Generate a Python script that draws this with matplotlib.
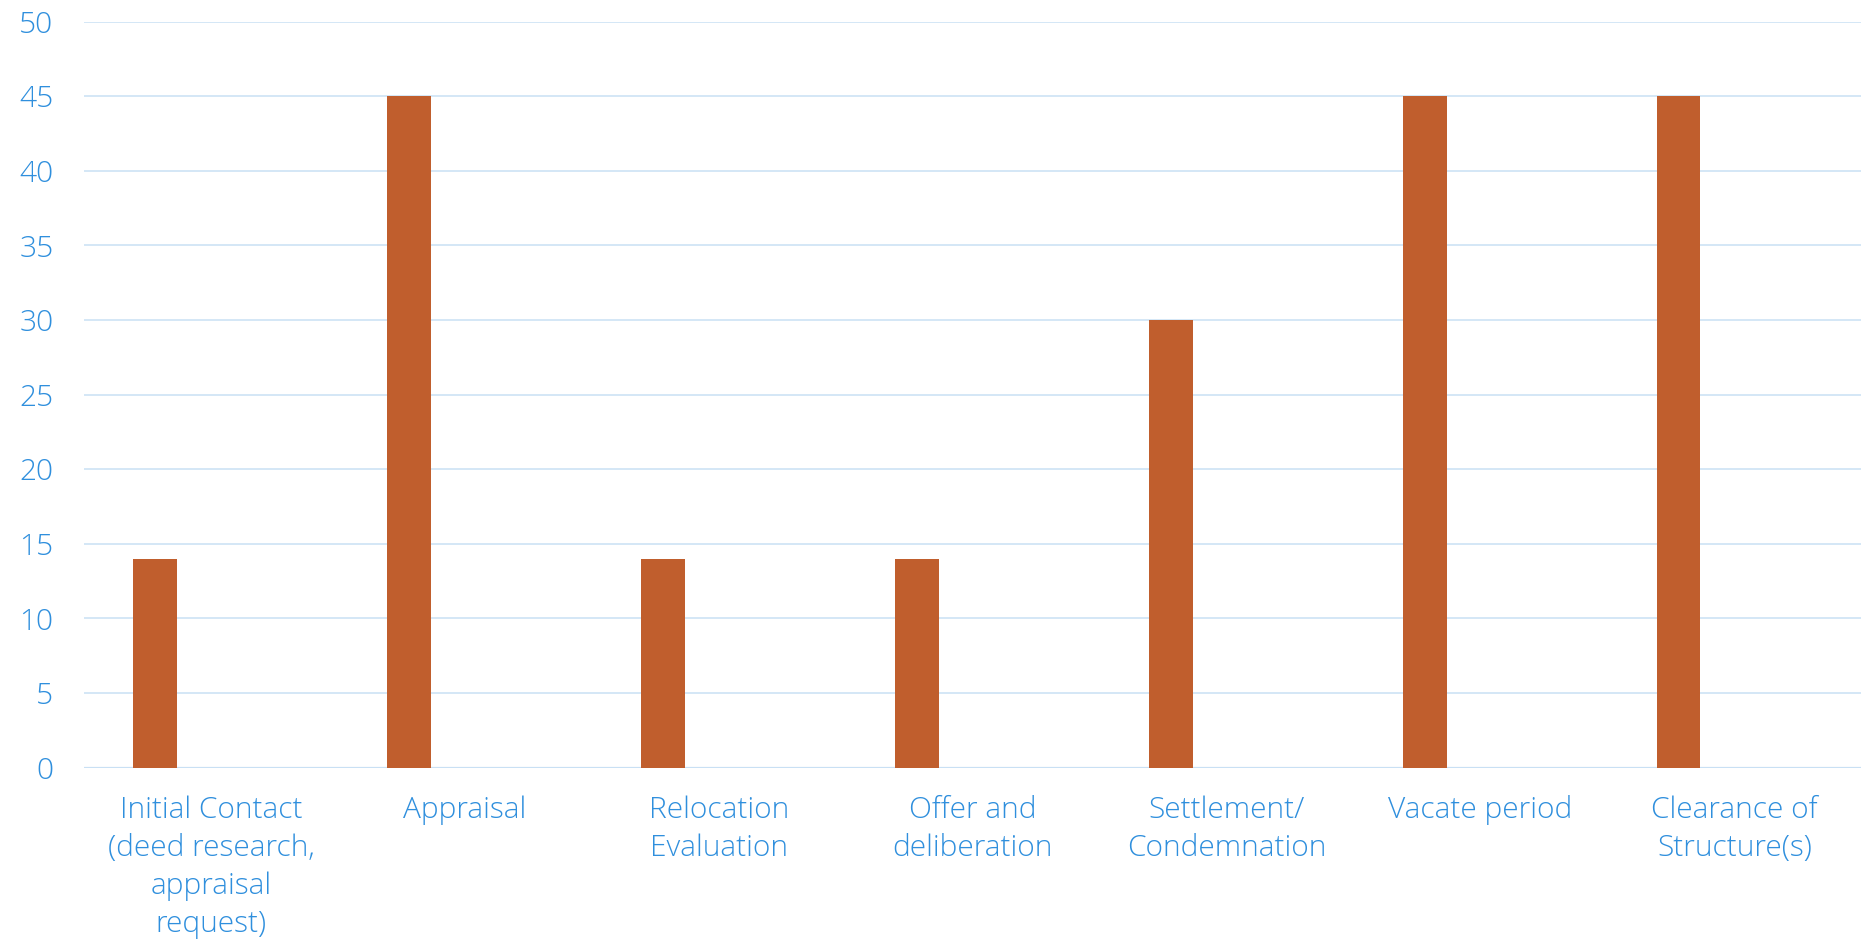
import numpy as np
import matplotlib.pyplot as plt

categories = [
    "Initial Contact\n(deed research,\nappraisal\nrequest)",
    "Appraisal",
    "Relocation\nEvaluation",
    "Offer and\ndeliberation",
    "Settlement/\nCondemnation",
    "Vacate period",
    "Clearance of\nStructure(s)",
]
days = [14, 45, 14, 14, 30, 45, 45]
y_ticks = list(range(0, 51, 5))

bar_color = "#C05E2D"
text_color = "#2F8FDD"
grid_color = "#C9E0F4"

plt.rcParams["font.family"] = ["Open Sans", "DejaVu Sans"]

fig = plt.figure(figsize=(18.63, 9.41), dpi=100)
ax = fig.add_axes([0.0451, 0.1843, 0.954, 0.7927])

x = np.arange(len(categories))

# bars sit on the left side of each slot (empty second series in the original)
ax.bar(x - 0.22, days, width=0.173, color=bar_color, zorder=3)

ax.set_xlim(-0.5, len(categories) - 0.5)
ax.set_ylim(0, 50)
ax.set_yticks(y_ticks)
ax.set_xticks(x)
ax.set_xticklabels(categories, linespacing=1.38)

for spine in ax.spines.values():
    spine.set_visible(False)

ax.yaxis.grid(True, color=grid_color, linewidth=1.1, zorder=0)
ax.set_axisbelow(True)
ax.axhline(0, color=grid_color, linewidth=1.6, zorder=1)

ax.tick_params(axis="both", length=0, labelcolor=text_color, labelsize=21.5)
ax.tick_params(axis="y", pad=22)
ax.tick_params(axis="x", pad=20)
for lbl in ax.get_xticklabels() + ax.get_yticklabels():
    lbl.set_fontweight("light")

fig.savefig("out.png", dpi=100)
